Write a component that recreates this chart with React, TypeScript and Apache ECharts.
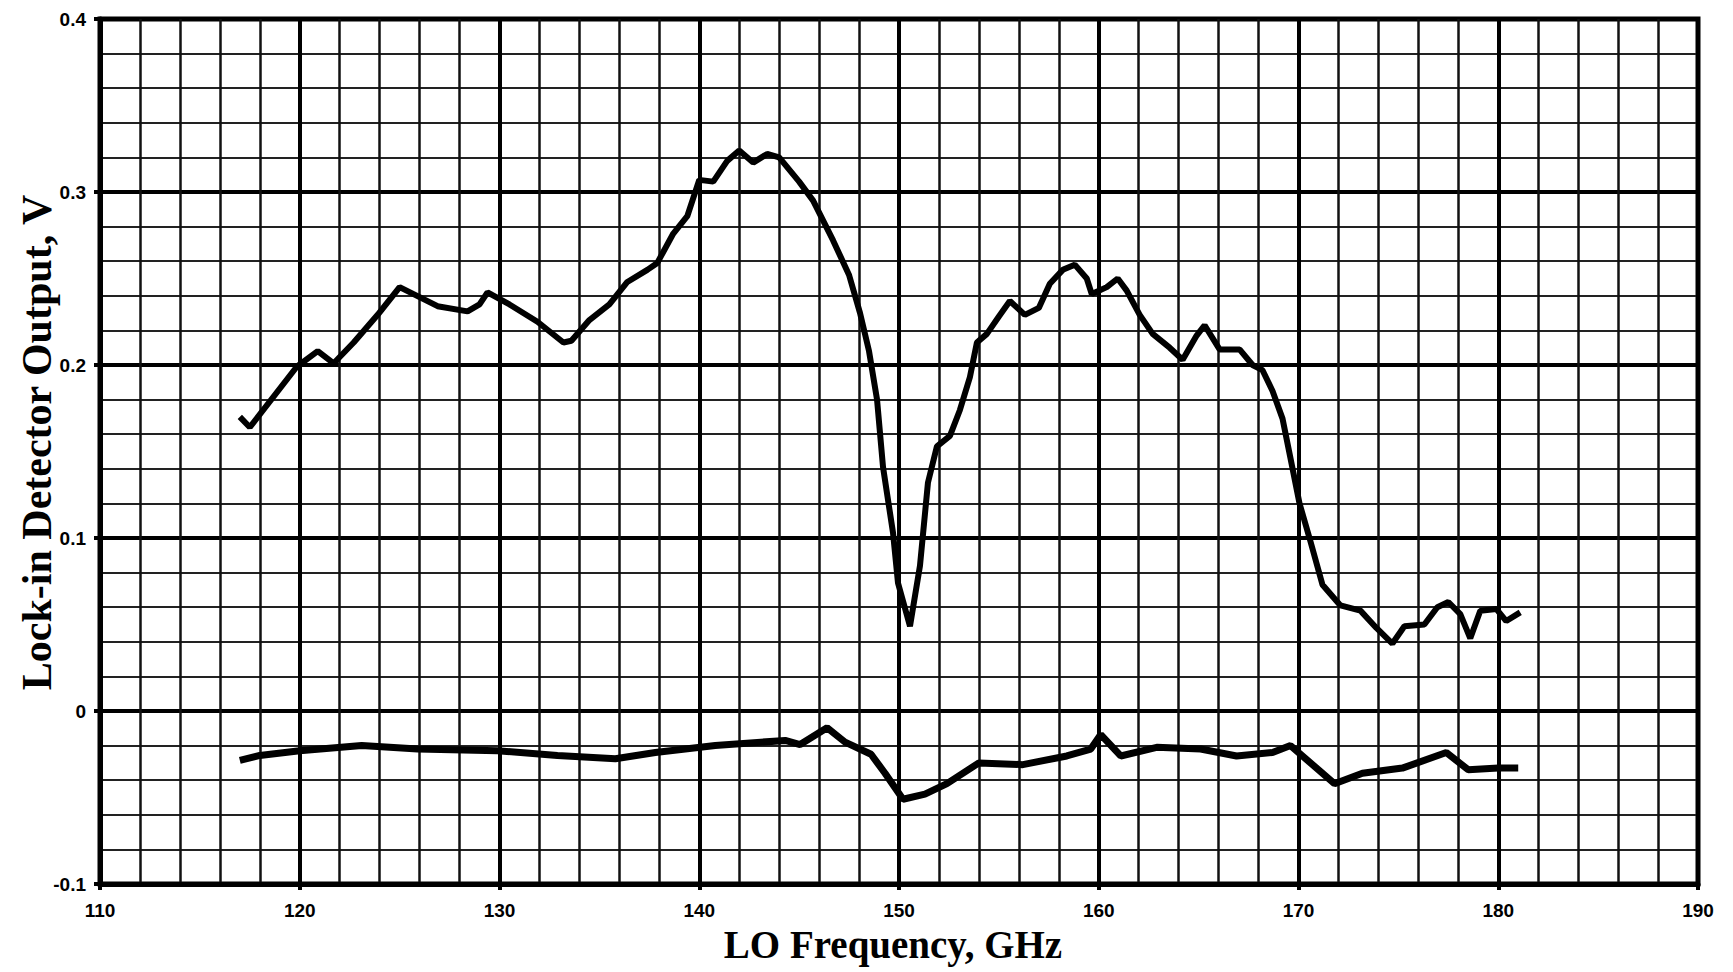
import React, { useEffect, useRef } from "react";
import * as echarts from "echarts";

// Upper trace (LO frequency in GHz, detector output in V)
const upperFreq = [
  117.0, 117.5, 119.85, 120.9, 121.7, 122.7, 123.9, 125.0, 125.7, 126.9, 128.4, 129.0, 129.4, 130.5,
  131.9, 133.2, 133.6, 134.5, 135.5, 136.4, 137.4, 137.9, 138.7, 139.4, 140.0, 140.7, 141.4, 142.0,
  142.7, 143.4, 144.0, 145.0, 145.7, 146.7, 147.5, 148.05, 148.5, 148.9, 149.2, 149.7, 149.95, 150.55,
  151.05, 151.45, 151.9, 152.55, 153.05, 153.55, 153.9, 154.4, 155.0, 155.55, 156.3, 157.0, 157.55,
  158.2, 158.8, 159.4, 159.65, 160.4, 160.95, 161.4, 162.05, 162.7, 163.55, 164.2, 164.9, 165.3,
  166.05, 167.05, 167.7, 168.2, 168.7, 169.2, 169.6, 170.05, 170.6, 171.2, 172.1, 173.1, 173.9,
  174.7, 175.3, 176.3, 176.95, 177.5, 178.1, 178.6, 179.1, 179.9, 180.4, 181.1,
];
const upperVolt = [
  0.17, 0.164, 0.199, 0.208, 0.201, 0.213, 0.229, 0.245, 0.241, 0.234, 0.231, 0.235, 0.242, 0.235,
  0.225, 0.213, 0.214, 0.226, 0.235, 0.248, 0.255, 0.259, 0.276, 0.286, 0.307, 0.306, 0.318, 0.324,
  0.317, 0.322, 0.32, 0.306, 0.295, 0.272, 0.252, 0.23, 0.208, 0.18, 0.141, 0.103, 0.074, 0.049,
  0.084, 0.132, 0.153, 0.159, 0.174, 0.193, 0.213, 0.218, 0.228, 0.237, 0.229, 0.233, 0.247,
  0.255, 0.258, 0.25, 0.241, 0.245, 0.25, 0.243, 0.229, 0.218, 0.21, 0.203, 0.217, 0.223,
  0.209, 0.209, 0.2, 0.197, 0.185, 0.169, 0.146, 0.12, 0.098, 0.073, 0.061, 0.058, 0.048,
  0.039, 0.049, 0.05, 0.06, 0.063, 0.056, 0.042, 0.058, 0.059, 0.052, 0.057,
];

// Lower trace
const lowerFreq = [
  117.0, 118.0, 120.0, 123.1, 125.9, 129.9, 132.9, 135.8, 137.8, 140.8, 144.3, 145.05, 146.4, 147.3,
  148.6, 149.3, 150.2, 151.3, 152.4, 154.0, 156.2, 158.4, 159.6, 160.1, 161.1, 162.9, 165.1, 166.9,
  168.7, 169.6, 170.7, 171.8, 173.2, 175.2, 177.4, 178.5, 180.0, 181.0,
];
const lowerVolt = [
  -0.0286, -0.0257, -0.023, -0.02, -0.022, -0.023, -0.0257, -0.0276, -0.024, -0.02, -0.017, -0.0194,
  -0.0097, -0.018, -0.025, -0.036, -0.051, -0.048, -0.042, -0.03, -0.031, -0.026, -0.022, -0.0136,
  -0.026, -0.021, -0.022, -0.026, -0.024, -0.02, -0.031, -0.042, -0.036, -0.033, -0.024, -0.034,
  -0.033, -0.033,
];

const xMin = 110;
const xMax = 190;
const xStep = 10;
const yMin = -0.1;
const yMax = 0.4;
const yStep = 0.1;

const xTitle = "LO Frequency, GHz";
const yTitle = "Lock-in Detector Output, V";

export default function App() {
  const ref = useRef<HTMLDivElement>(null);

  useEffect(() => {
    if (!ref.current) return;
    const chart = echarts.init(ref.current, undefined, { renderer: "svg" });
    const upper = upperFreq.map((f, i) => [f, upperVolt[i]]);
    const lower = lowerFreq.map((f, i) => [f, lowerVolt[i]]);
    const labelFont = {
      fontFamily: "Liberation Sans",
      fontWeight: "bold" as const,
      color: "#000",
    };
    chart.setOption({
      animation: false,
      backgroundColor: "#fff",
      grid: {
        left: 100,
        top: 19,
        width: 1598,
        height: 865,
        show: true,
        borderColor: "#000",
        borderWidth: 5,
        backgroundColor: "#fff",
        containLabel: false,
        outerBoundsMode: "none",
      },
      xAxis: {
        type: "value",
        min: xMin,
        max: xMax,
        interval: xStep,
        name: xTitle,
        nameLocation: "middle",
        nameGap: 41,
        nameMoveOverlap: false,
        nameTextStyle: {
          fontFamily: "Liberation Serif",
          fontWeight: "bold",
          fontSize: 39,
          color: "#000",
          padding: [0, 12, 0, 0],
        },
        axisLine: { show: true, onZero: false, lineStyle: { color: "#000", width: 5 } },
        axisTick: { show: true, inside: false, length: 6, lineStyle: { color: "#000", width: 4 } },
        axisLabel: { ...labelFont, fontSize: 19, margin: 17 },
        splitLine: { show: true, lineStyle: { color: "#000", width: 4 } },
        minorTick: { show: false, splitNumber: 5 },
        minorSplitLine: { show: true, lineStyle: { color: "#111", width: 2.5 } },
      },
      yAxis: {
        type: "value",
        min: yMin,
        max: yMax,
        interval: yStep,
        name: yTitle,
        nameLocation: "middle",
        nameGap: 42,
        nameMoveOverlap: false,
        nameTextStyle: {
          fontFamily: "Liberation Serif",
          fontWeight: "bold",
          fontSize: 42,
          color: "#000",
          padding: [0, 0, 0, 18],
        },
        axisLine: { show: true, onZero: false, lineStyle: { color: "#000", width: 5 } },
        axisTick: { show: true, inside: false, length: 6, lineStyle: { color: "#000", width: 4 } },
        axisLabel: {
          ...labelFont,
          fontSize: 19,
          margin: 14,
          formatter: (v: number) => String(Math.round(v * 10) / 10),
        },
        splitLine: { show: true, lineStyle: { color: "#000", width: 4 } },
        minorTick: { show: false, splitNumber: 5 },
        minorSplitLine: { show: true, lineStyle: { color: "#222", width: 2 } },
      },
      series: [
        {
          type: "line",
          data: upper,
          showSymbol: false,
          symbol: "none",
          lineStyle: { color: "#000", width: 6 },
          z: 5,
        },
        {
          type: "line",
          data: lower,
          showSymbol: false,
          symbol: "none",
          lineStyle: { color: "#000", width: 7 },
          z: 5,
        },
      ],
    });
    return () => chart.dispose();
  }, []);

  return (
    <div
      ref={ref}
      style={{ position: "fixed", left: 0, top: 0, width: 1733, height: 972, background: "#fff" }}
    />
  );
}
